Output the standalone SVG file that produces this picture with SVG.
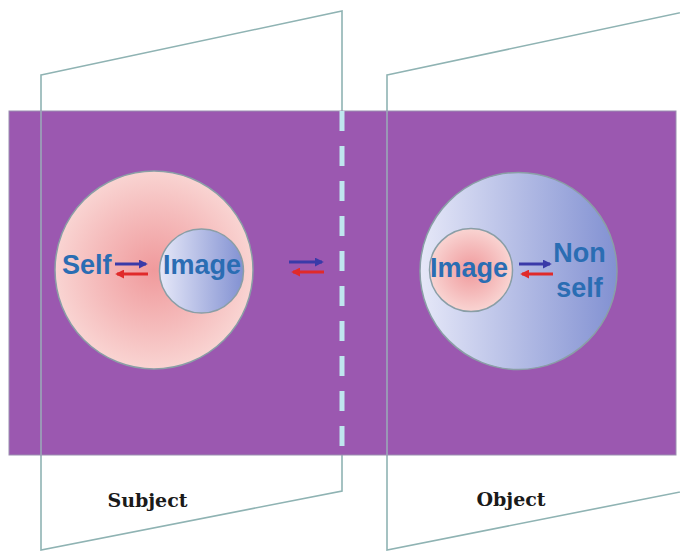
<svg xmlns="http://www.w3.org/2000/svg" width="680" height="552" viewBox="0 0 680 552">
<defs>
<style>
.plane{fill:none;stroke:#8fb3b3;stroke-width:1.6}
.big{font-family:"Liberation Sans",Arial,sans-serif;font-weight:bold;font-size:27px;fill:#2a6db3}
.cap{font-family:"DejaVu Serif","Liberation Serif",serif;font-weight:bold;font-size:19px;fill:#1a1a1a}
.ring{stroke:#8a9ea6;stroke-width:1.5}
.blue{stroke:#3a3aa8;stroke-width:3;fill:none}
.red{stroke:#e02a2a;stroke-width:3;fill:none}
</style>
<radialGradient id="pink" cx="0.5" cy="0.5" r="0.5">
<stop offset="0" stop-color="#f09a9c"/>
<stop offset="0.6" stop-color="#f5bcbc"/>
<stop offset="1" stop-color="#f9d4d2"/>
</radialGradient>
<linearGradient id="lav" x1="0" y1="0" x2="1" y2="0">
<stop offset="0" stop-color="#e6e8f8"/>
<stop offset="1" stop-color="#8291d2"/>
</linearGradient>
<marker id="ab" viewBox="0 0 10 10" refX="8" refY="5" markerWidth="3" markerHeight="3" orient="auto"><path d="M0,0 L10,5 L0,10 z" fill="#3a3aa8"/></marker>
<marker id="ar" viewBox="0 0 10 10" refX="8" refY="5" markerWidth="3" markerHeight="3" orient="auto"><path d="M0,0 L10,5 L0,10 z" fill="#e02a2a"/></marker>
</defs>
<rect width="680" height="552" fill="#ffffff"/>
<g id="subject-plane">
<polygon class="plane" points="41,75 342,11 342,491 41,550"/>
</g>
<g id="object-plane">
<polygon class="plane" points="387,75 700,8.5 700,488 387,550"/>
</g>
<g id="background">
<rect x="9" y="111" width="667" height="344" fill="#9b58b0" stroke="#9a8fb0" stroke-width="1"/>
<line x1="41" y1="111" x2="41" y2="455" stroke="#9aa8b8" stroke-width="1.6"/>
<line x1="387" y1="111" x2="387" y2="455" stroke="#9aa8b8" stroke-width="1.6"/>
<line x1="342" y1="111" x2="342" y2="455" stroke="#bfe6ee" stroke-width="5" stroke-dasharray="20 15"/>
</g>
<g id="self-circle">
<circle class="ring" cx="154" cy="270" r="99" fill="url(#pink)"/>
<circle class="ring" cx="201.5" cy="271" r="42" fill="url(#lav)"/>
<text class="big" x="62" y="274">Self</text>
<text class="big" x="163" y="274">Image</text>
</g>
<g id="nonself-circle">
<circle class="ring" cx="518.5" cy="271" r="98.5" fill="url(#lav)"/>
<circle class="ring" cx="471" cy="270" r="41.5" fill="url(#pink)"/>
<text class="big" x="430" y="277">Image</text>
<text class="big" x="579.5" y="262" text-anchor="middle">Non</text>
<text class="big" x="579.5" y="297" text-anchor="middle">self</text>
</g>
<g id="connectors">
<line class="blue" x1="115" y1="264" x2="146" y2="264" marker-end="url(#ab)"/>
<line class="red" x1="148" y1="274" x2="117" y2="274" marker-end="url(#ar)"/>
<line class="blue" x1="289" y1="262" x2="322" y2="262" marker-end="url(#ab)"/>
<line class="red" x1="324" y1="272" x2="293" y2="272" marker-end="url(#ar)"/>
<line class="blue" x1="519" y1="264" x2="550" y2="264" marker-end="url(#ab)"/>
<line class="red" x1="553" y1="274" x2="522" y2="274" marker-end="url(#ar)"/>
</g>
<g id="labels">
<text class="cap" x="147.5" y="507" text-anchor="middle">Subject</text>
<text class="cap" x="511" y="506" text-anchor="middle">Object</text>
</g>
</svg>
